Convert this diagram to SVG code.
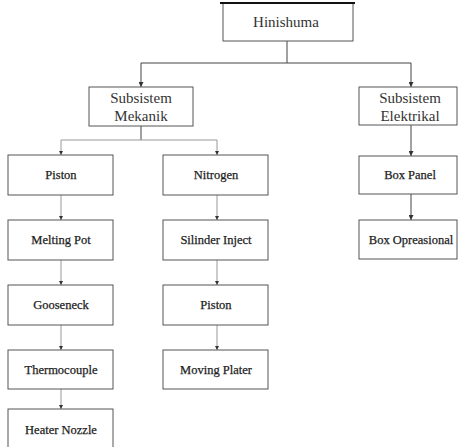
<svg xmlns="http://www.w3.org/2000/svg" width="458" height="447" viewBox="0 0 458 447">
<style>
.box{fill:#fff;stroke:#555;stroke-width:1}
.t{font-family:"Liberation Serif","DejaVu Serif",serif;font-size:12.5px;fill:#222;text-anchor:middle;stroke:#222;stroke-width:0.25}
.tb{font-family:"Liberation Serif","DejaVu Serif",serif;font-size:15px;fill:#333;text-anchor:middle}
.cd{fill:none;stroke:#444;stroke-width:1}
.cl{fill:none;stroke:#999;stroke-width:1}
</style>
<defs>
<marker id="ad" viewBox="0 0 6 6" refX="6" refY="3" markerWidth="5" markerHeight="5" orient="auto"><path d="M0,0L6,3L0,6z" fill="#333"/></marker>
<marker id="al" viewBox="0 0 6 6" refX="6" refY="3" markerWidth="4" markerHeight="4" orient="auto"><path d="M0,0L6,3L0,6z" fill="#333"/></marker>
</defs>
<rect width="458" height="447" fill="#fff"/>
<g id="connectors">
<path class="cd" d="M287,41V63"/>
<path class="cd" d="M141,63H411"/>
<path class="cd" d="M141,63V87" marker-end="url(#ad)"/>
<path class="cd" d="M411,63V87" marker-end="url(#ad)"/>
<path class="cd" d="M141,126V140"/>
<path class="cl" d="M61,140H217"/>
<path class="cl" d="M61,140V155" marker-end="url(#al)"/>
<path class="cl" d="M217,140V155" marker-end="url(#al)"/>
<path class="cd" d="M411,125V156" marker-end="url(#ad)"/>
<path class="cd" d="M411,194V220" marker-end="url(#ad)"/>
<path class="cl" d="M61,195V220" marker-end="url(#al)"/>
<path class="cl" d="M61,260V285" marker-end="url(#al)"/>
<path class="cl" d="M61,325V350" marker-end="url(#al)"/>
<path class="cl" d="M61,389V409" marker-end="url(#al)"/>
<path class="cl" d="M217,195V220" marker-end="url(#al)"/>
<path class="cl" d="M217,260V285" marker-end="url(#al)"/>
<path class="cl" d="M217,325V350" marker-end="url(#al)"/>
</g>
<g id="hinishuma"><rect class="box" x="223" y="3" width="130" height="38"/><path d="M220,3H355" stroke="#111" stroke-width="2"/><text class="tb" x="286" y="27">Hinishuma</text></g>
<g id="mekanik"><rect class="box" x="89" y="87" width="104" height="39"/><text class="tb" x="141" y="103">Subsistem</text><text class="tb" x="141" y="121">Mekanik</text></g>
<g id="elektrikal"><rect class="box" x="359" y="87" width="98" height="38"/><text class="tb" x="410" y="103">Subsistem</text><text class="tb" x="410" y="121">Elektrikal</text></g>
<g id="piston1"><rect class="box" x="8" y="155" width="105" height="40"/><text class="t" x="61" y="179">Piston</text></g>
<g id="meltingpot"><rect class="box" x="8" y="220" width="105" height="40"/><text class="t" x="61" y="244">Melting Pot</text></g>
<g id="gooseneck"><rect class="box" x="8" y="285" width="105" height="40"/><text class="t" x="61" y="309">Gooseneck</text></g>
<g id="thermocouple"><rect class="box" x="8" y="350" width="105" height="39"/><text class="t" x="61" y="374">Thermocouple</text></g>
<g id="heaternozzle"><rect class="box" x="8" y="409" width="105" height="45"/><text class="t" x="61" y="434">Heater Nozzle</text></g>
<g id="nitrogen"><rect class="box" x="163" y="155" width="105" height="40"/><text class="t" x="216" y="179">Nitrogen</text></g>
<g id="silinder"><rect class="box" x="163" y="220" width="105" height="40"/><text class="t" x="216" y="244">Silinder Inject</text></g>
<g id="piston2"><rect class="box" x="163" y="285" width="105" height="40"/><text class="t" x="216" y="309">Piston</text></g>
<g id="movingplater"><rect class="box" x="163" y="350" width="105" height="39"/><text class="t" x="216" y="374">Moving Plater</text></g>
<g id="boxpanel"><rect class="box" x="359" y="156" width="98" height="38"/><text class="t" x="410" y="179">Box Panel</text></g>
<g id="boxopreasional"><rect class="box" x="359" y="220" width="98" height="39"/><text class="t" x="411" y="244">Box Opreasional</text></g>
</svg>
